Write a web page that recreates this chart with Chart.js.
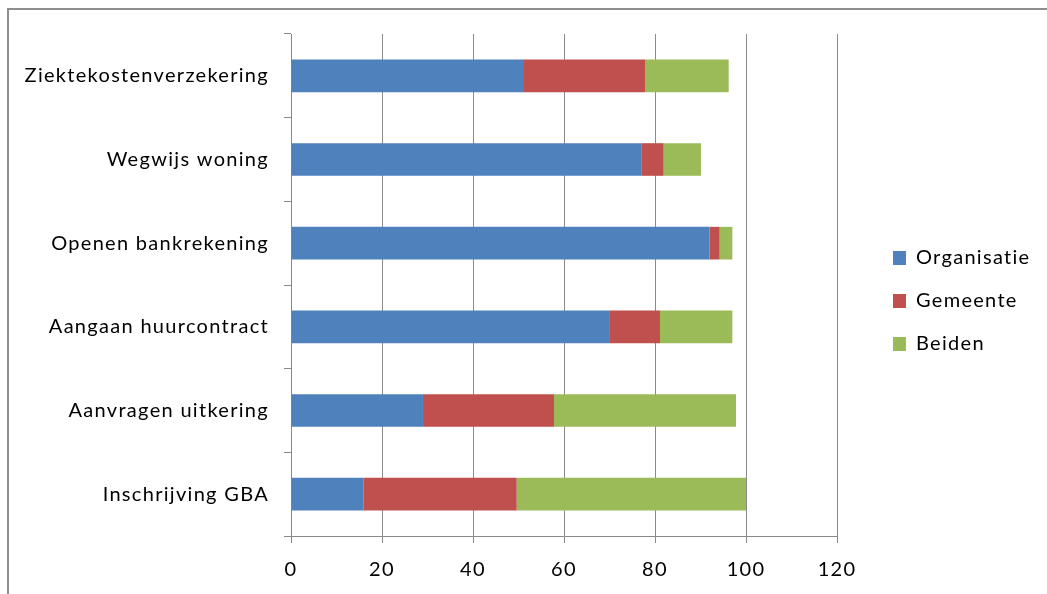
<!DOCTYPE html>
<html><head><meta charset="utf-8">
<script src="https://cdn.jsdelivr.net/npm/chart.js@4"></script>
<style>
html,body{margin:0;padding:0;background:#fff;}
#wrap{position:relative;width:1047px;height:594px;overflow:hidden;}
#frame{position:absolute;left:7px;top:8px;width:1100px;height:700px;border-left:2px solid #8e8e8e;border-top:2px solid #8e8e8e;pointer-events:none;}
canvas{position:absolute;left:0;top:0;}
</style></head>
<body><div id="wrap"><canvas id="c" width="1047" height="594"></canvas><div id="frame"></div></div>
<script>
const categories = ['Ziektekostenverzekering', 'Wegwijs woning', 'Openen bankrekening', 'Aangaan huurcontract', 'Aanvragen uitkering', 'Inschrijving GBA'];
const organisatie = [51.0, 77.1, 92.0, 70.1, 29.0, 15.9];
const gemeente = [26.8, 4.8, 2.2, 11.0, 28.8, 33.7];
const beiden = [18.4, 8.2, 2.8, 15.9, 40.0, 50.4];
const xTicks = [0, 20, 40, 60, 80, 100, 120];

const FONT = {family: 'Lato', size: 20};
const GRID = '#8a8a8a';
const LS = '1.3px';

const spacingPlugin = {
  id: 'spacing',
  afterInit(chart) {
    const lg = chart.legend;
    if (lg && !lg._patched) {
      const orig = lg.fit.bind(lg);
      lg.fit = function () { orig(); this.width = 210; };
      lg._patched = true;
    }
  },
  beforeUpdate(chart) { chart.ctx.letterSpacing = LS; },
  beforeDraw(chart) { chart.ctx.letterSpacing = LS; },
  afterLayout(chart) {
    const lg = chart.legend;
    if (!lg) return;
    const dx = 870 - lg.left;
    lg.left += dx; lg.right += dx;
    const dy = -13;
    lg.top += dy; lg.bottom += dy;
  }
};

new Chart(document.getElementById('c'), {
  type: 'bar',
  data: {
    labels: categories,
    datasets: [
      {label: 'Organisatie', data: organisatie, backgroundColor: '#4F81BD'},
      {label: 'Gemeente', data: gemeente, backgroundColor: '#C0504D'},
      {label: 'Beiden', data: beiden, backgroundColor: '#9BBB59'}
    ]
  },
  options: {
    indexAxis: 'y',
    responsive: false,
    animation: false,
    devicePixelRatio: 1,
    datasets: {bar: {categoryPercentage: 1, barPercentage: 0.39}},
    layout: {padding: {top: 34, left: 0, right: 0, bottom: 0}},
    scales: {
      x: {
        stacked: true, min: 0, max: 120,
        afterBuildTicks(s) { s.ticks = xTicks.map(v => ({value: v})); },
        afterFit(s) { s.height = 58; },
        grid: {color: GRID, lineWidth: 1, tickLength: 7, tickColor: GRID},
        border: {color: GRID, width: 1},
        ticks: {color: '#000', font: FONT, padding: 15, maxRotation: 0}
      },
      y: {
        stacked: true,
        afterFit(s) { s.width = 291; },
        grid: {drawOnChartArea: false, drawTicks: true, tickLength: 7, tickColor: GRID, offset: true},
        border: {color: GRID, width: 1},
        ticks: {color: '#000', font: FONT, padding: 15}
      }
    },
    plugins: {
      tooltip: {enabled: false},
      legend: {
        position: 'right',
        align: 'center',
        labels: {color: '#000', font: FONT, boxWidth: 13, boxHeight: 14, padding: 23}
      }
    }
  },
  plugins: [spacingPlugin]
});
</script>
</body></html>
